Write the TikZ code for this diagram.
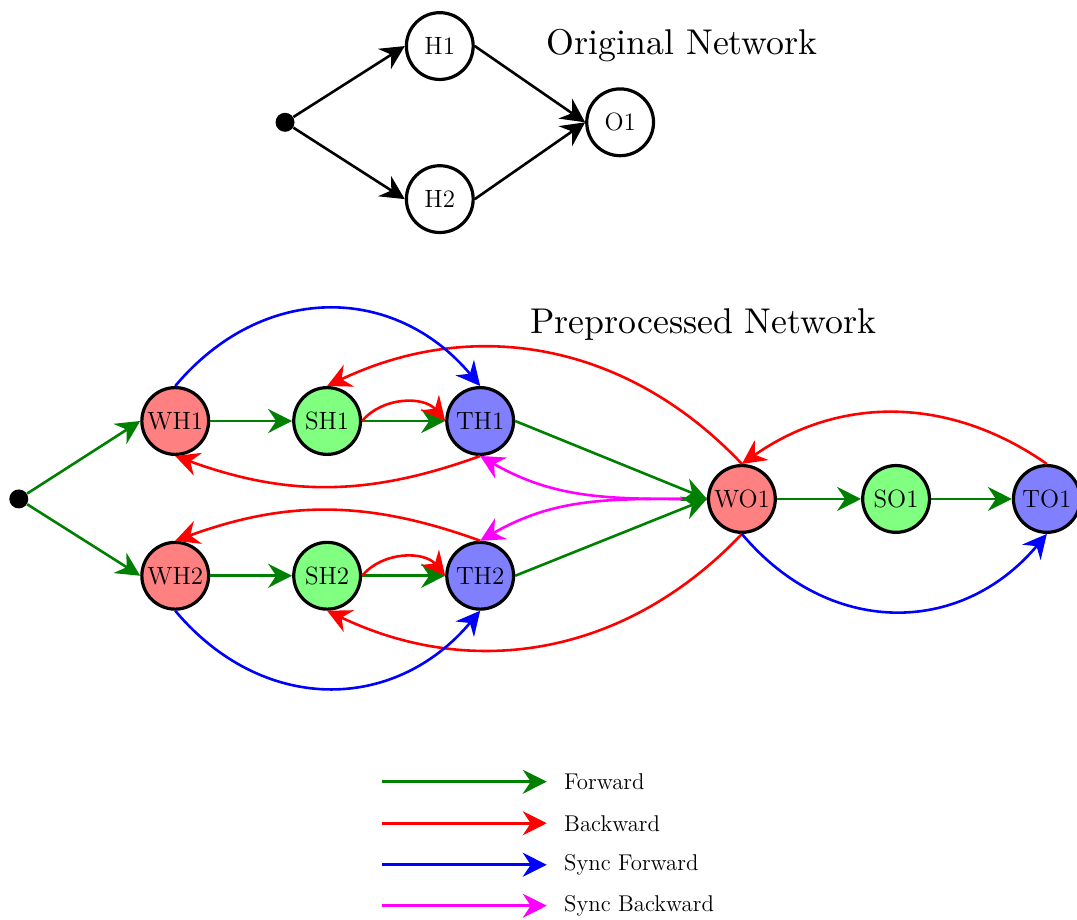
\documentclass[tikz,border=0pt]{standalone}
\usetikzlibrary{arrows.meta,positioning}

\definecolor{syncback}{RGB}{255,0,255}

\tikzset{
  >={Stealth[length=12pt,width=12pt,inset=4pt]},
  neuron/.style={circle, draw, line width=1.6pt, minimum size=33.4pt, inner sep=0pt, font=\fontsize{12.5}{14}\selectfont},
  wnode/.style={neuron, fill=red!50},
  snode/.style={neuron, fill=green!50},
  tnode/.style={neuron, fill=blue!50},
  input/.style={circle, fill, inner sep=0pt, minimum size=9.5pt},
  edge/.style={->, line width=1.3pt},
  fwd/.style={edge, green!50!black},
  bwd/.style={edge, red},
  syncfwd/.style={edge, blue},
  syncbwd/.style={edge, syncback},
  title/.style={font=\normalsize, scale=1.79, transform shape},
  legend/.style={font=\fontsize{11.4}{13}\selectfont, inner sep=0pt},
}

\begin{document}
\begin{tikzpicture}
    \useasboundingbox (0,0) rectangle (18.93,16.17);

    % original network
    \node[input] (x) at (5.01,14.02) {};
    \node[neuron] (h1) at (7.73,15.36) {H1};
    \node[neuron] (h2) at (7.73,12.67) {H2};
    \node[neuron] (o1) at (10.90,14.02) {O1};
    \node[title] (orig) at (11.99,15.36) {Original Network};
    \draw[edge] (x) -- (h1.west);
    \draw[edge] (x) -- (h2.west);
    \draw[edge] (h1.east) -- (o1.west);
    \draw[edge] (h2.east) -- (o1.west);

    % preprocessed network
    \node[title] (prep) at (12.36,10.46) {Preprocessed Network};
    \node[input] (xp) at (0.33,7.40) {};
    \node[wnode] (wh1) at (3.08,8.77) {WH1};
    \node[snode] (sh1) at (5.75,8.77) {SH1};
    \node[tnode] (th1) at (8.44,8.77) {TH1};
    \node[wnode] (wh2) at (3.08,6.05) {WH2};
    \node[snode] (sh2) at (5.75,6.05) {SH2};
    \node[tnode] (th2) at (8.44,6.05) {TH2};
    \node[wnode] (wo1) at (13.04,7.40) {WO1};
    \node[snode] (so1) at (15.75,7.40) {SO1};
    \node[tnode] (to1) at (18.40,7.40) {TO1};

    % sync backward
    \draw[syncbwd] (wo1.west) to[out=180, in=-30] (th1.south);
    \draw[syncbwd] (wo1.west) to[out=180, in=30] (th2.north);

    % forward
    \draw[fwd] (xp) -- (wh1.west);
    \draw[fwd] (xp) -- (wh2.west);
    \draw[fwd] (wh1) -- (sh1);
    \draw[fwd] (sh1) -- (th1);
    \draw[fwd] (wh2) -- (sh2);
    \draw[fwd] (sh2) -- (th2);
    \draw[fwd] (th1.east) -- (wo1.west);
    \draw[fwd] (th2.east) -- (wo1.west);
    \draw[fwd] (wo1) -- (so1);
    \draw[fwd] (so1) -- (to1);

    % backward
    \draw[bwd] (sh1.east) to[bend left=50] (th1.west);
    \draw[bwd] (sh2.east) to[bend left=50] (th2.west);
    \draw[bwd] (th1.south) to[bend left=20] (wh1.south);
    \draw[bwd] (th2.north) to[bend right=20] (wh2.north);
    \draw[bwd] (wo1.north) to[bend right=36] (sh1.north);
    \draw[bwd] (wo1.south) to[bend left=36] (sh2.south);
    \draw[bwd] (to1.north) to[bend right=35] (wo1.north);

    % sync forward
    \draw[syncfwd] (wh1.north) to[bend left=50, looseness=1.13] (th1.north);
    \draw[syncfwd] (wh2.south) to[bend right=50, looseness=1.13] (th2.south);
    \draw[syncfwd] (wo1.south) to[bend right=50, looseness=1.13] (to1.south);

    % legend
    \coordinate (lf0) at (6.71,2.43);  \coordinate (lf1) at (9.61,2.43);
    \coordinate (lb0) at (6.71,1.70);  \coordinate (lb1) at (9.61,1.70);
    \coordinate (lsf0) at (6.71,0.97); \coordinate (lsf1) at (9.61,0.97);
    \coordinate (lsb0) at (6.71,0.25); \coordinate (lsb1) at (9.61,0.25);
    \draw[fwd] (lf0) -- (lf1);
    \draw[bwd] (lb0) -- (lb1);
    \draw[syncfwd] (lsf0) -- (lsf1);
    \draw[syncbwd] (lsb0) -- (lsb1);
    \node[legend, right=0.3cm of lf1] (tf) {Forward};
    \node[legend, right=0.3cm of lb1] (tb) {Backward};
    \node[legend, right=0.3cm of lsf1] (tsf) {Sync Forward};
    \node[legend, right=0.3cm of lsb1] (tsb) {Sync Backward};
\end{tikzpicture}
\end{document}
